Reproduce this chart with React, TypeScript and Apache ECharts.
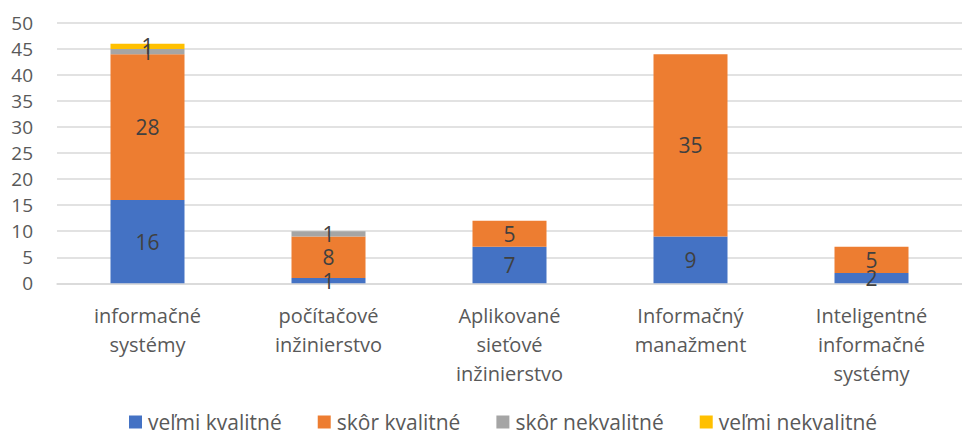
import React, { useEffect, useRef } from "react";
import * as echarts from "echarts";

const categories = [
  "informačné\nsystémy",
  "počítačové\ninžinierstvo",
  "Aplikované\nsieťové\ninžinierstvo",
  "Informačný\nmanažment",
  "Inteligentné\ninformačné\nsystémy",
];
const seriesNames = ["veľmi kvalitné", "skôr kvalitné", "skôr nekvalitné", "veľmi nekvalitné"];
const velmiKvalitne = [16, 1, 7, 9, 2];
const skorKvalitne = [28, 8, 5, 35, 5];
const skorNekvalitne = [1, 1, 0, 0, 0];
const velmiNekvalitne = [1, 0, 0, 0, 0];
const colors = ["#4472C4", "#ED7D31", "#A5A5A5", "#FFC000"];

const FONT = "'Open Sans', sans-serif";

export default function App() {
  const ref = useRef<HTMLDivElement>(null);
  useEffect(() => {
    if (!ref.current) return;
    const chart = echarts.init(ref.current, undefined, { renderer: "svg" });
    const data = [velmiKvalitne, skorKvalitne, skorNekvalitne, velmiNekvalitne];
    chart.setOption({
      animation: false,
      textStyle: { fontFamily: FONT },
      grid: { left: 57, top: 23, width: 918, height: 260.3 },
      legend: {
        left: 129,
        top: 411,
        padding: 0,
        itemWidth: 13,
        itemHeight: 13,
        itemGap: 36,
        icon: "rect",
        textStyle: { fontFamily: FONT, fontSize: 21, color: "#595959", lineHeight: 22, padding: [0, 0, 0, 1] },
        data: seriesNames,
      },
      xAxis: {
        type: "category",
        data: categories,
        axisLine: { show: true, lineStyle: { color: "#D9D9D9", width: 1.5 } },
        axisTick: { show: false },
        axisLabel: {
          color: "#595959",
          fontFamily: FONT,
          fontSize: 20,
          lineHeight: 29,
          margin: 18,
          interval: 0,
        },
      },
      yAxis: {
        type: "value",
        min: 0,
        max: 50,
        interval: 5,
        axisLine: { show: false },
        axisTick: { show: false },
        splitLine: { lineStyle: { color: "#D9D9D9", width: 1.5 } },
        axisLabel: { color: "#595959", fontFamily: FONT, fontSize: 19, margin: 24 },
      },
      series: seriesNames.map((name, i) => ({
        name,
        type: "bar",
        stack: "total",
        barWidth: 74,
        data: data[i],
        itemStyle: { color: colors[i] },
        label: {
          show: true,
          position: "inside",
          color: "#404040",
          fontFamily: FONT,
          fontSize: 21,
          formatter: (p: any) => (p.value ? String(p.value) : ""),
        },
      })),
    });
    return () => chart.dispose();
  }, []);
  return (
    <div
      ref={ref}
      style={{ position: "absolute", left: 0, top: 0, width: 962, height: 435, background: "#fff" }}
    />
  );
}
